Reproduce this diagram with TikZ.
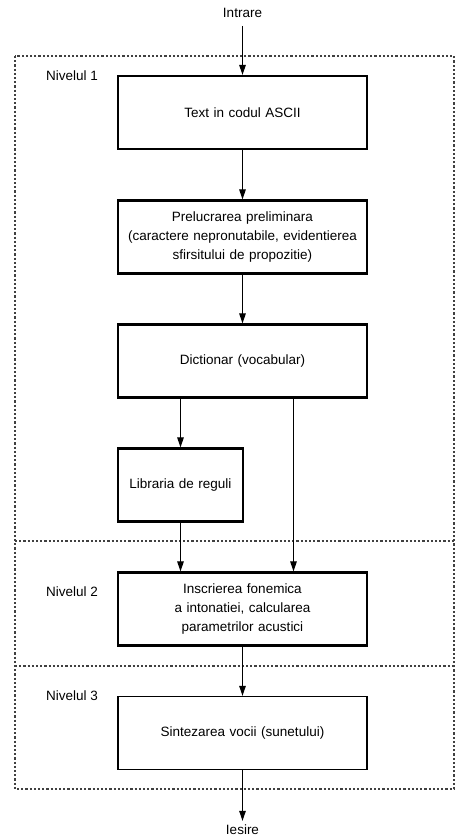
\documentclass[tikz,border=0pt]{standalone}
\usepackage{fontspec}
\setmainfont{Liberation Sans}
\usetikzlibrary{arrows.meta}
\begin{document}
\begin{tikzpicture}[x=1pt,y=-1pt,
  every node/.style={font=\fontsize{13.5}{19}\selectfont, inner sep=0pt},
  blk/.style={draw, line width=2.2pt, minimum width=249pt, minimum height=73pt, align=center, text width=240pt},
  blkthin/.style={blk, line width=1.3pt},
  arr/.style={line width=1.1pt, -{Triangle[length=10pt,width=6.5pt]}},
  lvl/.style={draw=black!75, line width=1.4pt, dash pattern=on 2.2pt off 2pt},
  lab/.style={anchor=west}]
\useasboundingbox (0,0) rectangle (457,836);
\node (in) at (242.5,13) {Intrare};
\node[blk] (b1) at (242.5,112.5) {Text in codul ASCII};
\node[blk] (b2) at (242.5,237) {Prelucrarea preliminara\\(caractere nepronutabile, evidentierea\\sfirsitului de propozitie)};
\node[blk] (b3) at (242.5,361) {Dictionar (vocabular)};
\node[blk, minimum width=125pt, text width=120pt] (b4) at (180.5,485) {Libraria de reguli};
\node[blk] (b5) at (242.5,609) {Inscrierea fonemica\\a intonatiei, calcularea\\parametrilor acustici};
\node[blkthin] (b6) at (242.5,733) {Sintezarea vocii (sunetului)};
\node (out) at (242.5,830) {Iesire};
\node[lab] (n1) at (46,76) {Nivelul 1};
\node[lab] (n2) at (46,592) {Nivelul 2};
\node[lab] (n3) at (46,696) {Nivelul 3};
\draw[lvl] (15,56) rectangle (454,789);
\draw[lvl] (15,541) -- (454,541);
\draw[lvl] (15,666) -- (454,666);
\draw[arr] (in.south) ++(0,8) -- (b1.north);
\draw[arr] (b1) -- (b2);
\draw[arr] (b2) -- (b3);
\draw[arr] (b3.south -| b4) -- (b4.north);
\draw[arr] (b3.south -| 293.5,0) -- (b5.north -| 293.5,0);
\draw[arr] (b4.south) -- (b5.north -| b4);
\draw[arr] (b5) -- (b6);
\draw[arr] (b6.south) -- ([yshift=4pt]out.north);
\end{tikzpicture}
\end{document}
